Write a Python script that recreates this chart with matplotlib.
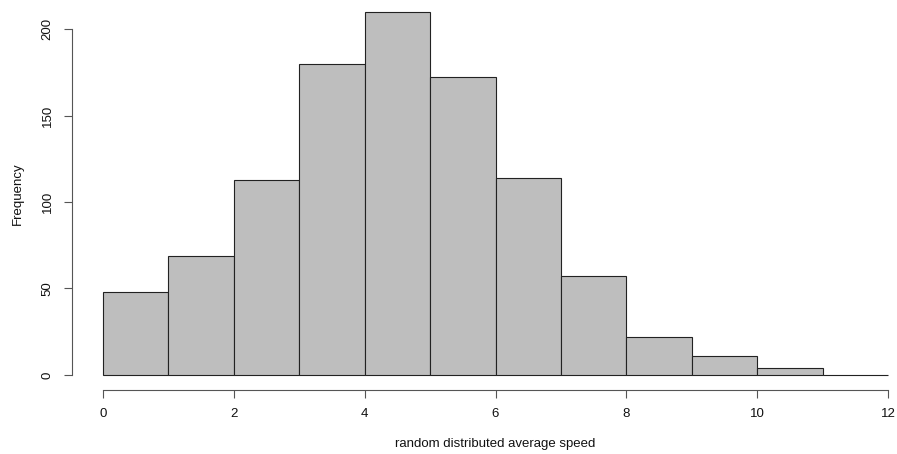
import matplotlib
matplotlib.use("Agg")
import matplotlib.pyplot as plt

plt.rcParams['font.family'] = ['Liberation Sans', 'DejaVu Sans']

bin_edges = [0, 1, 2, 3, 4, 5, 6, 7, 8, 9, 10, 11, 12]
counts = [48, 69, 113, 180, 210, 172, 114, 57, 22, 11, 4, 0]
x_ticks = [0, 2, 4, 6, 8, 10, 12]
y_ticks = [0, 50, 100, 150, 200]
x_label = "random distributed average speed"
y_label = "Frequency"

W, H = 897, 454
fig = plt.figure(figsize=(W / 100, H / 100), dpi=100)
left, right, bottom, top = 71.6, 919.4, 389.5, -2.8
ax = fig.add_axes([left / W, (H - bottom) / H, (right - left) / W, (bottom - top) / H])

ax.bar(bin_edges[:-1], counts, width=[b - a for a, b in zip(bin_edges[:-1], bin_edges[1:])],
       align='edge', color='#BEBEBE', edgecolor='#222222', linewidth=0.8)

ax.set_xlim(-0.48, 12.48)
ax.set_ylim(-8.4, 218.4)
for s in ['top', 'right']:
    ax.spines[s].set_visible(False)
for s in ['left', 'bottom']:
    ax.spines[s].set_color('#555555')
    ax.spines[s].set_linewidth(0.8)
ax.spines['left'].set_bounds(0, 200)
ax.spines['bottom'].set_bounds(0, 12)
ax.set_xticks(x_ticks)
ax.set_xticklabels([str(t) for t in x_ticks])
ax.set_yticks(y_ticks)
ax.set_yticklabels([str(t) for t in y_ticks], rotation=90, va='center')
ax.tick_params(axis='both', length=5.5, width=0.8, color='#555555', labelsize=9.5, pad=7.5, labelcolor='#111111')
ax.set_xlabel(x_label, fontsize=9.5, labelpad=13, color='#111111')
ax.set_ylabel(y_label, fontsize=9.5, labelpad=13, color='#111111')

fig.savefig("out.png", dpi=100)
